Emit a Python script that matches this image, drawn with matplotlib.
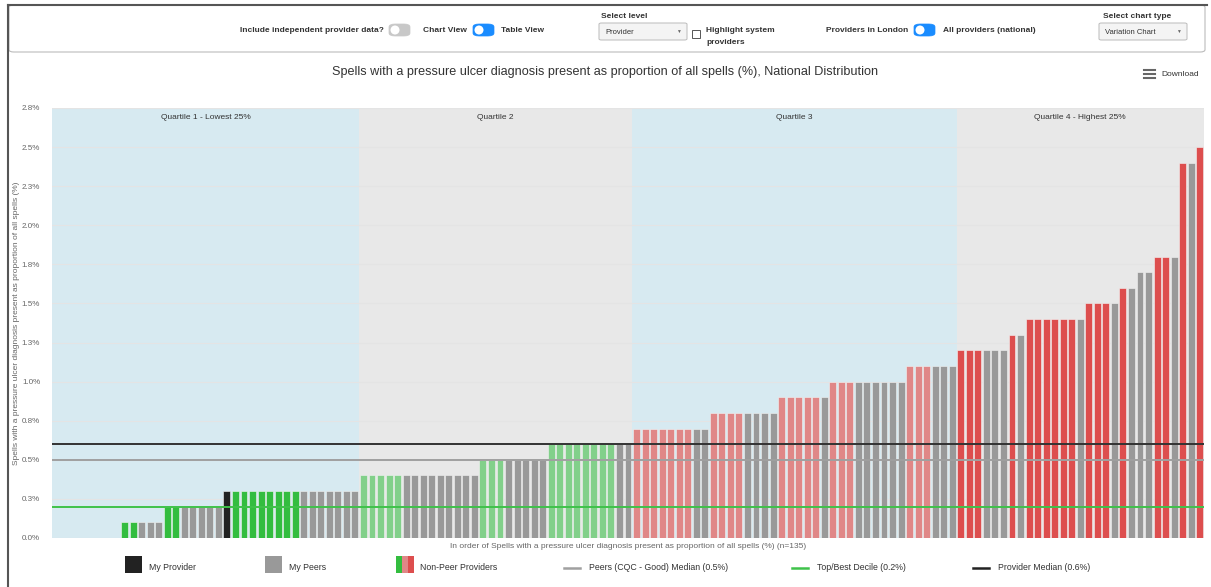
import matplotlib
matplotlib.use("Agg")
import matplotlib.pyplot as plt
from matplotlib.patches import Rectangle, FancyBboxPatch, Ellipse
from matplotlib.lines import Line2D

plt.rcParams['font.family'] = ['Liberation Sans', 'DejaVu Sans']

# ------------------------
# Data
# ------------------------

values = [
    0.0, 0.0, 0.0, 0.0, 0.0, 0.0, 0.0, 0.0,
    0.1, 0.1, 0.1, 0.1, 0.1,
    0.2, 0.2, 0.2, 0.2, 0.2, 0.2, 0.2,
    0.3, 0.3, 0.3, 0.3, 0.3, 0.3, 0.3, 0.3, 0.3, 0.3, 0.3, 0.3, 0.3, 0.3, 0.3, 0.3,
    0.4, 0.4, 0.4, 0.4, 0.4, 0.4, 0.4, 0.4, 0.4, 0.4, 0.4, 0.4, 0.4, 0.4,
    0.5, 0.5, 0.5, 0.5, 0.5, 0.5, 0.5, 0.5,
    0.6, 0.6, 0.6, 0.6, 0.6, 0.6, 0.6, 0.6, 0.6, 0.6,
    0.7, 0.7, 0.7, 0.7, 0.7, 0.7, 0.7, 0.7, 0.7,
    0.8, 0.8, 0.8, 0.8, 0.8, 0.8, 0.8, 0.8,
    0.9, 0.9, 0.9, 0.9, 0.9, 0.9,
    1.0, 1.0, 1.0, 1.0, 1.0, 1.0, 1.0, 1.0, 1.0,
    1.1, 1.1, 1.1, 1.1, 1.1, 1.1,
    1.2, 1.2, 1.2, 1.2, 1.2, 1.2,
    1.3, 1.3,
    1.4, 1.4, 1.4, 1.4, 1.4, 1.4, 1.4,
    1.5, 1.5, 1.5, 1.5,
    1.6, 1.6,
    1.7, 1.7,
    1.8, 1.8, 1.8,
    2.4, 2.4,
    2.5,
]

# N = non-peer provider, P = peer, M = my provider
kinds = (
    "NNNNNNNN" "NNPPP" "NNPPPPP" "MNNNNNNNNPPPPPPP"
    "NNNNNPPPPPPPPP" "NNNPPPPP" "NNNNNNNNPP"
    "NNNNNNNPP" "NNNNPPPP" "NNNNNP" "NNNPPPPPP" "NNNPPP"
    "NNNPPP" "NP" "NNNNNNP" "NNNP" "NP" "PP" "NNP" "NP" "N"
)

quartile_ends = [36, 68, 106, 135]
quartile_labels = ["Quartile 1 - Lowest 25%", "Quartile 2", "Quartile 3", "Quartile 4 - Highest 25%"]
quartile_bg = ["#d7eaf1", "#e8e8e8", "#d7eaf1", "#e8e8e8"]
nonpeer_colors = ["#33bd3f", "#82d08a", "#e08787", "#dd4e4e"]

peer_median = 0.5
top_decile = 0.2
provider_median = 0.6

yticks = [0, 0.25, 0.5, 0.75, 1.0, 1.25, 1.5, 1.75, 2.0, 2.25, 2.5, 2.75]
ytick_labels = ["0.0%", "0.3%", "0.5%", "0.8%", "1.0%", "1.3%", "1.5%", "1.8%",
                "2.0%", "2.3%", "2.5%", "2.8%"]

W, H = 1211, 587


def px(x, y):
    return x / W, 1 - y / H


# ------------------------
# Figure + axes
# ------------------------

fig = plt.figure(figsize=(W / 100, H / 100), dpi=100)
ax = fig.add_axes([52 / W, 49 / H, 1152 / W, 430 / H])

n = len(values)
colors = []
for i, k in enumerate(kinds):
    q = next(j for j, e in enumerate(quartile_ends) if i < e)
    if k == "M":
        colors.append("#222222")
    elif k == "P":
        colors.append("#999999")
    else:
        colors.append(nonpeer_colors[q])

# quartile bands
start = -0.5
for j, end in enumerate(quartile_ends):
    ax.axvspan(start, end - 0.5, color=quartile_bg[j], zorder=0, lw=0)
    ax.text((start + end - 0.5) / 2, 2.69, quartile_labels[j], ha="center", va="center",
            fontsize=6, color="#333333")
    start = end - 0.5

for t in yticks:
    ax.axhline(t, color="#e4e4e4", lw=0.8, zorder=1)

ax.bar(range(n), values, width=0.82, color=colors, edgecolor="#f4f4f4", linewidth=0.4, zorder=2)

ax.axhline(top_decile, color="#3fc24a", lw=1.4, zorder=3)
ax.axhline(peer_median, color="#a0a0a0", lw=1.4, zorder=3)
ax.axhline(provider_median, color="#333333", lw=1.4, zorder=3)

ax.set_xlim(-0.5, n - 0.5)
ax.set_ylim(0, 2.75)
ax.set_xticks([])
ax.set_yticks(yticks)
ax.set_yticklabels(ytick_labels, fontsize=5.8, color="#666666")
ax.tick_params(axis="y", length=0, pad=8.5)
for s in ax.spines.values():
    s.set_visible(False)

ax.set_ylabel("Spells with a pressure ulcer diagnosis present as proportion of all spells (%)",
              fontsize=6, color="#666666")
ax.yaxis.set_label_coords(-0.028, 0.5)

fig.text(*px(628, 547), "In order of Spells with a pressure ulcer diagnosis present as proportion of all spells (%) (n=135)",
         ha="center", va="center", fontsize=6.05, color="#666666")

# ------------------------
# Title + download
# ------------------------

fig.text(*px(605, 72), "Spells with a pressure ulcer diagnosis present as proportion of all spells (%), National Distribution",
         ha="center", va="center", fontsize=9.1, color="#333333")
for yy in [70, 74, 78]:
    fig.add_artist(Line2D([1144 / W, 1155 / W], [1 - yy / H] * 2, color="#666666", lw=1.5))
fig.text(*px(1161, 75), "Download", ha="left", va="center", fontsize=6, color="#333333")

# ------------------------
# Page frame + header controls
# ------------------------

fig.add_artist(Line2D([8 / W, 8 / W], [0, 1 - 5 / H], color="#555555", lw=1.5))
fig.add_artist(Line2D([8 / W, 1 - 4 / W], [1 - 5 / H] * 2, color="#555555", lw=1.5))
fig.add_artist(FancyBboxPatch(px(9, 52), 1196 / W, 47 / H, boxstyle="round,pad=0,rounding_size=0.004",
                              transform=fig.transFigure, fc="white", ec="#bbbbbb", lw=0.8))


def toggle(x, y, on):
    fc = "#1a8cff" if on else "#c8c8c8"
    fig.add_artist(FancyBboxPatch(px(x, y + 6), 21 / W, 12 / H, boxstyle="round,pad=0,rounding_size=0.005",
                                  transform=fig.transFigure, fc=fc, ec=fc, lw=0.5))
    fig.add_artist(Ellipse(px(x + 6, y), 9 / W, 9 / H, transform=fig.transFigure, fc="white", ec="none"))


def dropdown(x, y, text):
    fig.add_artist(FancyBboxPatch(px(x, y + 9), 88 / W, 17 / H, boxstyle="round,pad=0,rounding_size=0.002",
                                  transform=fig.transFigure, fc="#f4f4f4", ec="#bbbbbb", lw=0.7))
    fig.text(*px(x + 6, y + 1), text, ha="left", va="center", fontsize=5.5, color="#333333")
    fig.text(*px(x + 79, y), "\u25bc", ha="center", va="center", fontsize=3.5, color="#666666")


bold = dict(fontsize=6, fontweight="bold", color="#333333", va="center")
fig.text(*px(240, 30), "Include independent provider data?", ha="left", **bold)
toggle(389, 30, False)
fig.text(*px(423, 30), "Chart View", ha="left", **bold)
toggle(473, 30, True)
fig.text(*px(501, 30), "Table View", ha="left", **bold)

fig.text(*px(601, 16), "Select level", ha="left", **bold)
dropdown(599, 31, "Provider")
fig.add_artist(Rectangle(px(692, 38), 8 / W, 8 / H, transform=fig.transFigure, fc="white", ec="#555555", lw=0.7))
fig.text(*px(706, 30), "Highlight system", ha="left", **bold)
fig.text(*px(706, 42), "providers", ha="left", **bold)

fig.text(*px(826, 30), "Providers in London", ha="left", **bold)
toggle(914, 30, True)
fig.text(*px(943, 30), "All providers (national)", ha="left", **bold)

fig.text(*px(1103, 16), "Select chart type", ha="left", **bold)
dropdown(1099, 31, "Variation Chart")

# ------------------------
# Legend
# ------------------------

leg_y = 568
lf = dict(fontsize=6.3, color="#333333", va="center", ha="left")
fig.add_artist(Rectangle(px(125, 573), 17 / W, 17 / H, transform=fig.transFigure, fc="#222222", ec="none"))
fig.text(*px(149, leg_y), "My Provider", **lf)
fig.add_artist(Rectangle(px(265, 573), 17 / W, 17 / H, transform=fig.transFigure, fc="#999999", ec="none"))
fig.text(*px(289, leg_y), "My Peers", **lf)
for k, c in enumerate(["#33bd3f", "#e08787", "#dd4e4e"]):
    fig.add_artist(Rectangle(px(396 + k * 6, 573), 6 / W, 17 / H, transform=fig.transFigure, fc=c, ec="none"))
fig.text(*px(420, leg_y), "Non-Peer Providers", **lf)

for x0, c, label in [(564, "#a0a0a0", "Peers (CQC - Good) Median (0.5%)"),
                     (792, "#3fc24a", "Top/Best Decile (0.2%)"),
                     (973, "#222222", "Provider Median (0.6%)")]:
    fig.add_artist(Line2D([x0 / W, (x0 + 16) / W], [1 - leg_y / H] * 2, color=c, lw=1.8))
    fig.text(*px(x0 + 25, leg_y), label, **lf)

fig.savefig("out.png", dpi=100)
